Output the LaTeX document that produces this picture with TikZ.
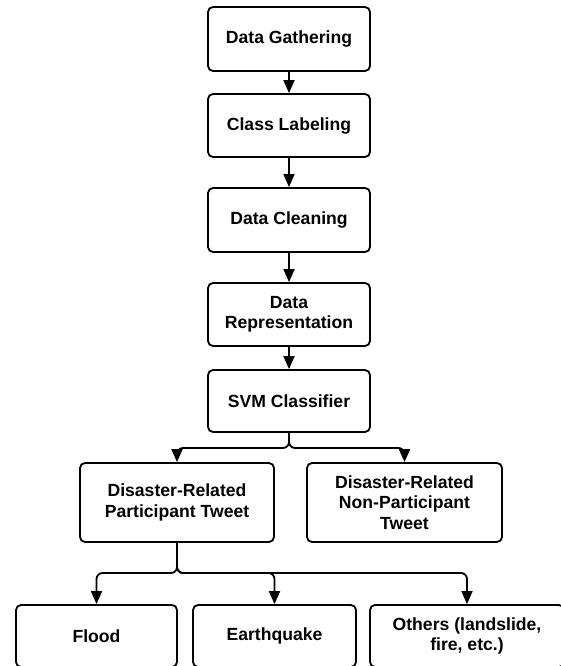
\documentclass[tikz,border=0pt]{standalone}
\usepackage{fontspec}
\setmainfont{Liberation Sans}
\usetikzlibrary{arrows.meta}
\begin{document}
\begin{tikzpicture}[x=1pt,y=-1pt,
  box/.style={draw=black, line width=1.8pt, rounded corners=5pt, fill=white,
    align=center, inner sep=0pt, font=\bfseries\fontsize{17.6}{20.5}\selectfont},
  arr/.style={draw=black, line width=1.8pt, -{Triangle[length=13pt,width=11pt]}},
  link/.style={arr, rounded corners=6pt}]
\useasboundingbox (0,0) rectangle (561,666);
\begin{scope}
\clip (0,0) rectangle (561,666);
\node[box, minimum width=162pt, minimum height=64pt] (g) at (289,39) {Data Gathering};
\node[box, minimum width=162pt, minimum height=63pt] (c) at (289,125.5) {Class Labeling};
\node[box, minimum width=162pt, minimum height=64pt] (d) at (289,220) {Data Cleaning};
\node[box, minimum width=162pt, minimum height=63pt] (r) at (289,314.5) {Data\\Representation};
\node[box, minimum width=162pt, minimum height=62pt] (s) at (289,401) {SVM Classifier};
\node[box, minimum width=194pt, minimum height=79pt] (p) at (177,502.5) {Disaster-Related\\Participant Tweet};
\node[box, minimum width=195pt, minimum height=79pt] (n) at (404.5,502.5) {Disaster-Related\\Non-Participant\\Tweet};
\node[box, minimum width=161pt, minimum height=62pt] (f) at (96.5,636) {Flood};
\node[box, minimum width=163pt, minimum height=62pt] (e) at (274.5,636) {Earthquake};
\node[box, minimum width=194pt, minimum height=62pt] (o) at (467,636) {Others (landslide,\\fire, etc.)};
\coordinate (j1) at (289,448);
\coordinate (j2) at (177,573);
\draw[arr] (g) -- (c);
\draw[arr] (c) -- (d);
\draw[arr] (d) -- (r);
\draw[arr] (r) -- (s);
\draw[link] (s.south) -- (j1) -| (p.north);
\draw[link] (s.south) -- (j1) -| (n.north);
\draw[link] (p.south) -- (j2) -| (f.north);
\draw[link] (p.south) -- (j2) -| (e.north);
\draw[link] (p.south) -- (j2) -| (o.north);
\end{scope}
\end{tikzpicture}
\end{document}
